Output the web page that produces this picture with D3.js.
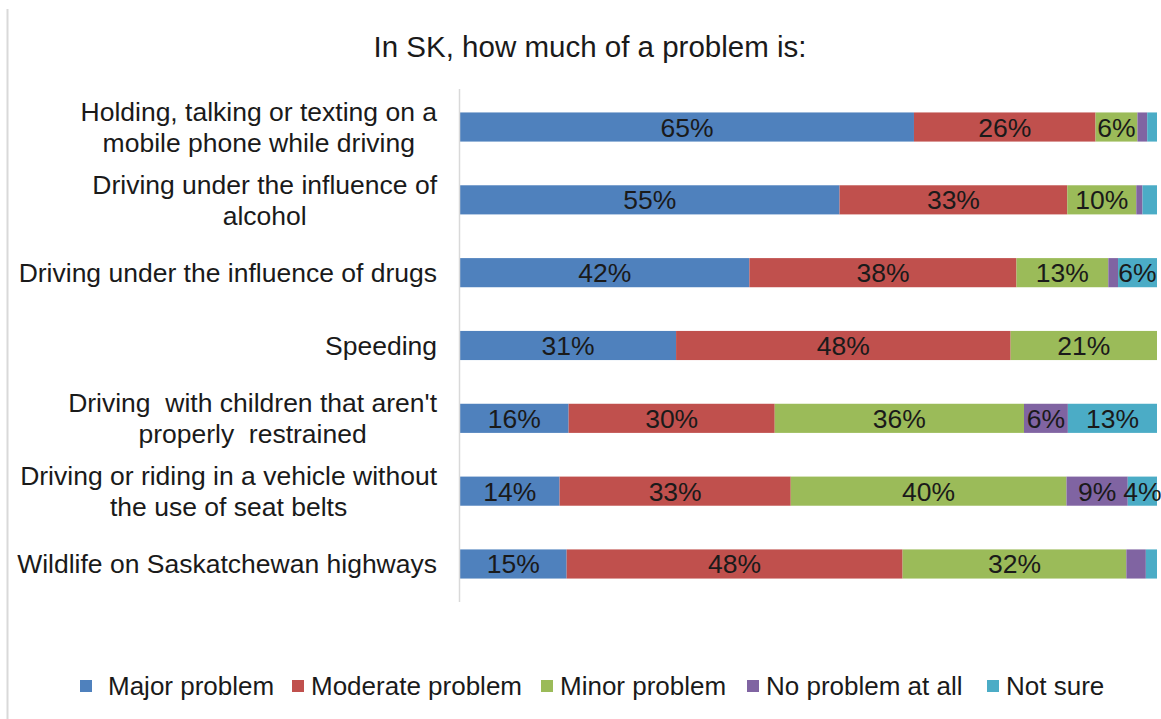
<!DOCTYPE html>
<html>
<head>
<meta charset="utf-8">
<script src="https://cdn.jsdelivr.net/npm/d3@7"></script>
<style>
  html, body { margin: 0; padding: 0; background: #fff; }
  svg { display: block; font-family: "Liberation Sans", Arial, sans-serif; }
</style>
</head>
<body>
<svg id="chart"></svg>
<script>
// Road-safety survey: share of answers per issue (100% stacked bars)
const categories = [
  ["Holding, talking or texting on a", "mobile phone while driving"],
  ["Driving under the influence of", "alcohol"],
  ["Driving under the influence of drugs"],
  ["Speeding"],
  ["Driving  with children that aren't", "properly  restrained"],
  ["Driving or riding in a vehicle without", "the use of seat belts"],
  ["Wildlife on Saskatchewan highways"],
];
const seriesNames = ["Major problem", "Moderate problem", "Minor problem", "No problem at all", "Not sure"];
const seriesColors = ["#4f81bd", "#c0504d", "#9bbb59", "#8064a2", "#4bacc6"];

const major    = [65, 55, 41.6, 31, 15.6, 14.3, 15.3];
const moderate = [26, 33, 38.4, 48, 29.6, 33.2, 48.2];
const minor    = [6, 10, 13.2, 21, 35.8, 39.6, 32.1];
const noProb   = [1.4, 0.9, 1.4, 0, 6.3, 8.8, 2.8];
const notSure  = [1.4, 2.1, 5.6, 0, 12.8, 4.2, 1.6];

const W = 1161, H = 719;
const svg = d3.select("#chart").attr("width", W).attr("height", H);

// thin frame on the left edge
svg.append("line")
  .attr("x1", 7.5).attr("x2", 7.5).attr("y1", 9).attr("y2", H)
  .attr("stroke", "#d9d9d9").attr("stroke-width", 2);

svg.append("text")
  .attr("x", 590).attr("y", 57)
  .attr("text-anchor", "middle")
  .attr("font-size", 29.5)
  .attr("fill", "#1a1a1a")
  .text("In SK, how much of a problem is:");

const plot = { left: 460, right: 1157, top: 90.6, bottom: 600.4 };

const rows = categories.map((c, i) => ({
  idx: i,
  lines: c,
  values: [major[i], moderate[i], minor[i], noProb[i], notSure[i]],
}));

const x = d3.scaleLinear().domain([0, 1]).range([plot.left, plot.right]);
const y = d3.scaleBand()
  .domain(rows.map((r) => r.idx))
  .range([plot.top, plot.bottom])
  .paddingInner(0.6)
  .paddingOuter(0.3);

// normalise each row so it fills the full width
const stacked = rows.map((r) => {
  const total = d3.sum(r.values);
  let acc = 0;
  return r.values.map((v, k) => {
    const seg = { row: r.idx, k, v, x0: acc / total, x1: (acc + v) / total };
    acc += v;
    return seg;
  });
}).flat();

const g = svg.append("g");

g.selectAll("rect.seg")
  .data(stacked.filter((d) => d.v > 0))
  .join("rect")
  .attr("class", "seg")
  .attr("x", (d) => x(d.x0))
  .attr("width", (d) => x(d.x1) - x(d.x0))
  .attr("y", (d) => y(d.row))
  .attr("height", y.bandwidth())
  .attr("fill", (d) => seriesColors[d.k]);

g.selectAll("text.val")
  .data(stacked.filter((d) => d.v >= 4))
  .join("text")
  .attr("class", "val")
  .attr("x", (d) => (x(d.x0) + x(d.x1)) / 2)
  .attr("y", (d) => y(d.row) + y.bandwidth() / 2 + 9.5)
  .attr("text-anchor", "middle")
  .attr("font-size", 26.5)
  .attr("fill", "#1a1a1a")
  .text((d) => `${Math.round(d.v)}%`);

// vertical category axis line
svg.append("line")
  .attr("x1", 459.5).attr("x2", 459.5)
  .attr("y1", 89).attr("y2", 602)
  .attr("stroke", "#d9d9d9").attr("stroke-width", 1.5);

// category labels: each block sits against the axis, lines centred inside it
const lineH = 31;
const labelRight = 437;
rows.forEach((r) => {
  const cy = y(r.idx) + y.bandwidth() / 2;
  const n = r.lines.length;
  const block = svg.append("g");
  const texts = r.lines.map((t, j) =>
    block.append("text")
      .attr("y", cy + (j - (n - 1) / 2) * lineH + 9.5)
      .attr("text-anchor", "middle")
      .attr("font-size", 26.5)
      .attr("fill", "#1a1a1a")
      .style("white-space", "pre")
      .text(t)
  );
  const widest = d3.max(texts, (t) => t.node().getComputedTextLength());
  texts.forEach((t) => t.attr("x", labelRight - widest / 2));
});

// legend
const legX = [80, 292, 541, 747, 987];
const legend = svg.append("g");
seriesNames.forEach((name, k) => {
  legend.append("rect")
    .attr("x", legX[k]).attr("y", 680)
    .attr("width", 12).attr("height", 12)
    .attr("fill", seriesColors[k]);
  legend.append("text")
    .attr("x", legX[k] + (k === 0 ? 28 : 19))
    .attr("y", 695)
    .attr("font-size", 26)
    .attr("fill", "#1a1a1a")
    .text(name);
});
</script>
</body>
</html>
